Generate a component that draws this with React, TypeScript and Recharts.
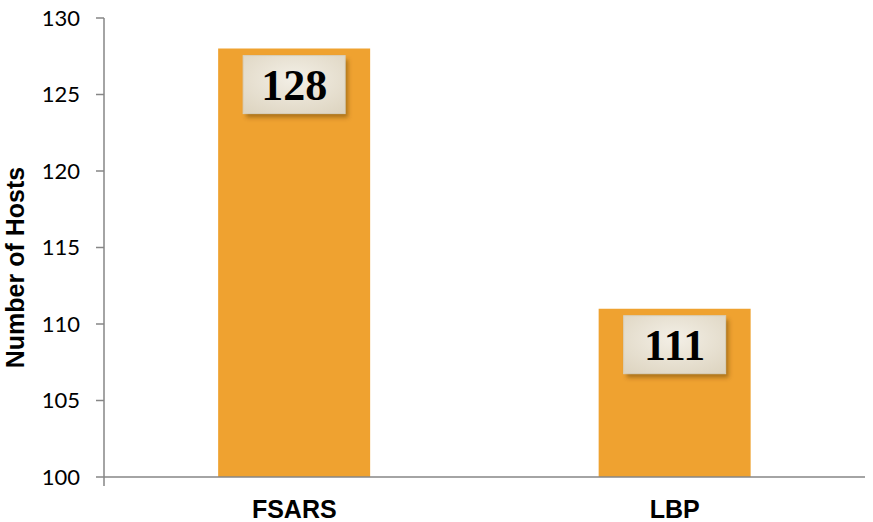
import { BarChart, Bar, XAxis, YAxis, LabelList } from 'recharts';

const categories = ['FSARS', 'LBP'];
const hosts = [128, 111];
const yTicks = [100, 105, 110, 115, 120, 125, 130];
const boundaryTicks = [0, 1, 2];

const data = categories.map((name, i) => ({ name, hosts: hosts[i] }));

const axisColor = '#868686';

function ValueBox(props: any) {
  const { x, y, width, value } = props;
  const cx = x + width / 2;
  const w = 102;
  const h = 58;
  const top = y + 7;
  return (
    <g>
      <rect x={cx - w / 2 + 3} y={top + 4} width={w} height={h} fill="rgba(90,60,10,0.45)" filter="url(#boxBlur)" />
      <rect x={cx - w / 2} y={top} width={w} height={h} fill="url(#boxFill)" stroke="#d8d0bd" strokeWidth={1} />
      <text
        x={cx}
        y={top + h / 2 + 15}
        textAnchor="middle"
        fontFamily="'Liberation Serif', 'DejaVu Serif', serif"
        fontWeight="bold"
        fontSize={44}
        fill="#000"
      >
        {value}
      </text>
    </g>
  );
}

function CategoryTick(props: any) {
  const { x, y, payload } = props;
  return (
    <text
      x={x}
      y={y + 24}
      textAnchor="middle"
      fontFamily="'Liberation Sans', Arial, sans-serif"
      fontWeight="bold"
      fontSize={25}
      fill="#000"
    >
      {payload.value}
    </text>
  );
}

export default function App() {
  return (
    <div style={{ position: 'absolute', left: 0, top: 0, background: '#fff' }}>
      <BarChart
        width={873}
        height={522}
        data={data}
        margin={{ top: 18, right: 8, bottom: 0, left: 0 }}
        barCategoryGap="30%"
      >
        <defs>
          <radialGradient id="boxFill" cx="50%" cy="40%" r="75%">
            <stop offset="0%" stopColor="#f3efe6" />
            <stop offset="100%" stopColor="#ddd4c0" />
          </radialGradient>
          <filter id="boxBlur" x="-20%" y="-20%" width="140%" height="140%">
            <feGaussianBlur stdDeviation="2" />
          </filter>
        </defs>
        <XAxis
          xAxisId="a_bounds"
          type="number"
          domain={[0, categories.length]}
          ticks={boundaryTicks}
          tick={() => <g />}
          tickSize={9}
          axisLine={{ stroke: axisColor, strokeWidth: 1.5 }}
          tickLine={{ stroke: axisColor, strokeWidth: 1.5 }}
          height={9}
        />
        <XAxis
          xAxisId="b_cat"
          dataKey="name"
          axisLine={false}
          tickLine={false}
          tick={<CategoryTick />}
          height={36}
        />
        <YAxis
          domain={[100, 130]}
          ticks={yTicks}
          interval={0}
          width={104}
          tickSize={8}
          tickMargin={16}
          axisLine={{ stroke: axisColor, strokeWidth: 1.5 }}
          tickLine={{ stroke: axisColor, strokeWidth: 1.5 }}
          tick={{ fill: '#000', fontSize: 22, fontFamily: "Lato, 'Open Sans', sans-serif" }}
          label={{
            value: 'Number of Hosts',
            angle: -90,
            position: 'insideLeft',
            dx: 10,
            dy: 20,
            style: {
              textAnchor: 'middle',
              fontFamily: "'Liberation Sans', Arial, sans-serif",
              fontWeight: 'bold',
              fontSize: 25,
              fill: '#000',
            },
          }}
        />
        <Bar dataKey="hosts" xAxisId="b_cat" fill="#EFA230" isAnimationActive={false}>
          <LabelList dataKey="hosts" content={<ValueBox />} />
        </Bar>
      </BarChart>
    </div>
  );
}
